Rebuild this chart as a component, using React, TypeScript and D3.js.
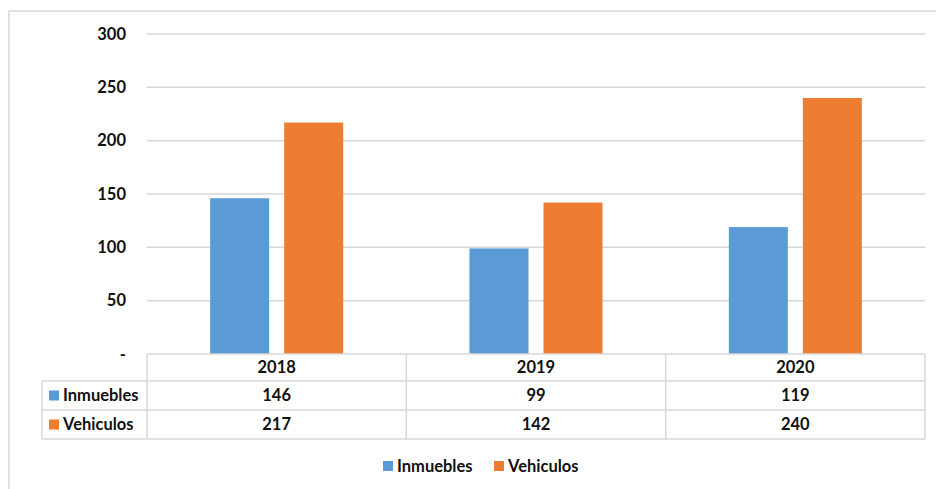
import React from "react";
import * as d3 from "d3";

const categories = ["2018", "2019", "2020"];
const seriesNames = ["Inmuebles", "Vehiculos"];
const inmuebles = [146, 99, 119];
const vehiculos = [217, 142, 240];
const yTicks = [0, 50, 100, 150, 200, 250, 300];
const colors = ["#5B9BD5", "#ED7D31"];

const W = 936;
const H = 489;
const FONT = "Lato, 'Noto Sans', sans-serif";
const FS = 16.5;

export default function App() {
  const values = [inmuebles, vehiculos];
  const plotLeft = 147;
  const plotRight = 925;
  const plotTop = 34;
  const plotBottom = 354;
  const rowH = [27, 29, 29];
  const tableLeft = 42;

  const x = d3.scaleBand<string>().domain(categories).range([plotLeft, plotRight]).padding(0);
  const bw = x.bandwidth();
  const groupW = bw * 0.513;
  const xs = d3
    .scaleBand<string>()
    .domain(seriesNames)
    .range([(bw - groupW) / 2, (bw + groupW) / 2])
    .paddingInner(0.2027)
    .paddingOuter(0);
  const y = d3.scaleLinear().domain([0, 300]).range([plotBottom, plotTop]);

  const r0 = plotBottom;
  const r1 = r0 + rowH[0];
  const r2 = r1 + rowH[1];
  const r3 = r2 + rowH[2];
  const gridColor = "#D9D9D9";

  return (
    <svg width={W} height={H} style={{ position: "absolute", left: 0, top: 0, background: "#fff" }}>
      <rect x={9} y={11} width={W} height={H} fill="#fff" stroke={gridColor} strokeWidth={1.5} />
      {yTicks.filter((t) => t > 0).map((t) => (
        <line key={t} x1={plotLeft} x2={plotRight} y1={y(t)} y2={y(t)} stroke={gridColor} strokeWidth={1.5} />
      ))}
      {yTicks.map((t) => (
        <text
          key={"l" + t}
          x={126}
          y={y(t)}
          dy="0.35em"
          textAnchor="end"
          fontFamily={FONT}
          fontWeight={700}
          fontSize={FS}
          fill="#111"
        >
          {t === 0 ? "-" : t}
        </text>
      ))}
      {categories.map((c, i) => (
        <g key={c} transform={`translate(${x(c)},0)`}>
          {seriesNames.map((s, j) => (
            <rect
              key={s}
              x={xs(s)}
              width={xs.bandwidth()}
              y={y(values[j][i])}
              height={y(0) - y(values[j][i])}
              fill={colors[j]}
            />
          ))}
        </g>
      ))}
      <g stroke={gridColor} strokeWidth={1.5} fill="none">
        <line x1={plotLeft} x2={plotRight} y1={r0} y2={r0} />
        <line x1={tableLeft} x2={plotRight} y1={r1} y2={r1} />
        <line x1={tableLeft} x2={plotRight} y1={r2} y2={r2} />
        <line x1={tableLeft} x2={plotRight} y1={r3} y2={r3} />
        <line x1={tableLeft} x2={tableLeft} y1={r1} y2={r3} />
        {[...categories.map((c) => x(c) as number), plotRight].map((xx, k) => (
          <line key={k} x1={xx} x2={xx} y1={r0} y2={r3} />
        ))}
      </g>
      {categories.map((c) => (
        <text
          key={"h" + c}
          x={(x(c) as number) + bw / 2}
          y={(r0 + r1) / 2}
          dy="0.35em"
          textAnchor="middle"
          fontFamily={FONT}
          fontWeight={700}
          fontSize={FS}
          fill="#111"
        >
          {c}
        </text>
      ))}
      {seriesNames.map((s, j) => {
        const top = j === 0 ? r1 : r2;
        const bot = j === 0 ? r2 : r3;
        const cy = (top + bot) / 2;
        return (
          <g key={"row" + s}>
            <rect x={49} y={cy - 5} width={10} height={10} fill={colors[j]} />
            <text x={63} y={cy} dy="0.35em" fontFamily={FONT} fontWeight={700} fontSize={FS} fill="#111">
              {s}
            </text>
            {categories.map((c, i) => (
              <text
                key={c}
                x={(x(c) as number) + bw / 2}
                y={cy}
                dy="0.35em"
                textAnchor="middle"
                fontFamily={FONT}
                fontWeight={700}
                fontSize={FS}
                fill="#111"
              >
                {values[j][i]}
              </text>
            ))}
          </g>
        );
      })}
      {seriesNames.map((s, j) => {
        const lx = j === 0 ? 383 : 494;
        return (
          <g key={"lg" + s}>
            <rect x={lx} y={461} width={10} height={10} fill={colors[j]} />
            <text x={lx + 14} y={466} dy="0.35em" fontFamily={FONT} fontWeight={700} fontSize={FS} fill="#111">
              {s}
            </text>
          </g>
        );
      })}
    </svg>
  );
}
